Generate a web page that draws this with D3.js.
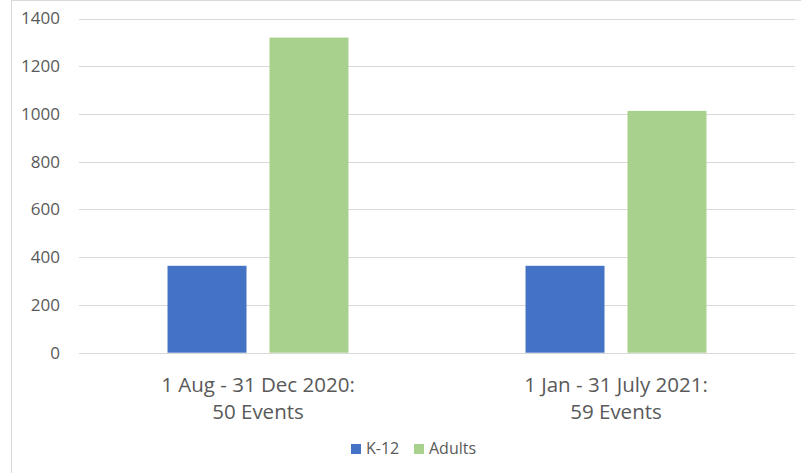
<!DOCTYPE html>
<html lang="en">
<head>
<meta charset="utf-8">
<title>K-12 and Adults participants by period</title>
<style>
  body { margin: 0; background: #fff; }
  .tick-label { font-family: "Open Sans", sans-serif; font-size: 17px; fill: #595959; }
  .cat-label { font-family: "Open Sans", sans-serif; font-size: 20.5px; fill: #595959; text-anchor: middle; }
  .legend-label { font-family: "Open Sans", sans-serif; font-size: 16px; fill: #595959; }
</style>
</head>
<body>
<div id="chart"></div>
<script src="https://cdn.jsdelivr.net/npm/d3@7"></script>
<script>

var periods = ["1 Aug - 31 Dec 2020:|50 Events", "1 Jan - 31 July 2021:|59 Events"],
    seriesNames = ["K-12", "Adults"],
    k12 = [364, 364],
    adults = [1320, 1013],
    yTicks = [0, 200, 400, 600, 800, 1000, 1200, 1400],
    colors = ["#4472C4", "#A9D18E"];

var width = 801, height = 473,
    plot = {left: 79, right: 795, top: 18.5, bottom: 352.7};

var svg = d3.select("#chart").append("svg")
    .attr("width", width)
    .attr("height", height);

// chart area border (cropped on right / bottom)
svg.append("rect")
   .attr("x", 11.5).attr("y", 0.5)
   .attr("width", 820).attr("height", 500)
   .attr("fill", "none")
   .attr("stroke", "#d9d9d9");

var x0 = d3.scaleBand().domain(periods).range([plot.left, plot.right]).padding(0);
var x1 = d3.scaleBand().domain(seriesNames).range([0, x0.bandwidth()])
           .paddingInner(0.2255).paddingOuter(0.868);
var y = d3.scaleLinear().domain([0, 1400]).range([plot.bottom, plot.top]);

// gridlines
svg.append("g").selectAll("line")
   .data(yTicks)
   .join("line")
   .attr("x1", plot.left).attr("x2", plot.right)
   .attr("y1", function(d){ return Math.round(y(d)) + 0.5; })
   .attr("y2", function(d){ return Math.round(y(d)) + 0.5; })
   .attr("stroke", "#d9d9d9")
   .attr("stroke-width", 1);

// y labels
svg.append("g").selectAll("text")
   .data(yTicks)
   .join("text")
   .attr("class", "tick-label")
   .attr("x", 60)
   .attr("y", function(d){ return y(d); })
   .attr("dy", "0.35em")
   .attr("text-anchor", "end")
   .text(function(d){ return d; });

var rows = periods.map(function(p, i){
    return {period: p, values: [{name: "K-12", v: k12[i]}, {name: "Adults", v: adults[i]}]};
});

var groups = svg.append("g").selectAll("g")
   .data(rows)
   .join("g")
   .attr("transform", function(d){ return "translate(" + x0(d.period) + ",0)"; });

groups.selectAll("rect")
   .data(function(d){ return d.values; })
   .join("rect")
   .attr("x", function(d){ return x1(d.name); })
   .attr("width", x1.bandwidth())
   .attr("y", function(d){ return y(d.v); })
   .attr("height", function(d){ return y(0) - y(d.v); })
   .attr("fill", function(d, i){ return colors[i]; });

// category labels (two lines)
var cat = svg.append("g").selectAll("text")
   .data(periods)
   .join("text")
   .attr("class", "cat-label")
   .attr("x", function(d){ return x0(d) + x0.bandwidth() / 2; })
   .attr("y", 391.5);

cat.selectAll("tspan")
   .data(function(d){ return d.split("|"); })
   .join("tspan")
   .attr("x", function(){ return d3.select(this.parentNode).attr("x"); })
   .attr("dy", function(d, i){ return i ? 27.5 : 0; })
   .text(function(d){ return d; });

// legend
var legendX = [351, 414];
var legend = svg.append("g").selectAll("g")
   .data(seriesNames)
   .join("g")
   .attr("transform", function(d, i){ return "translate(" + legendX[i] + ",444)"; });

legend.append("rect")
   .attr("width", 10).attr("height", 10)
   .attr("fill", function(d, i){ return colors[i]; });

legend.append("text")
   .attr("class", "legend-label")
   .attr("x", 15)
   .attr("y", 10)
   .text(function(d){ return d; });

</script>
</body>
</html>
